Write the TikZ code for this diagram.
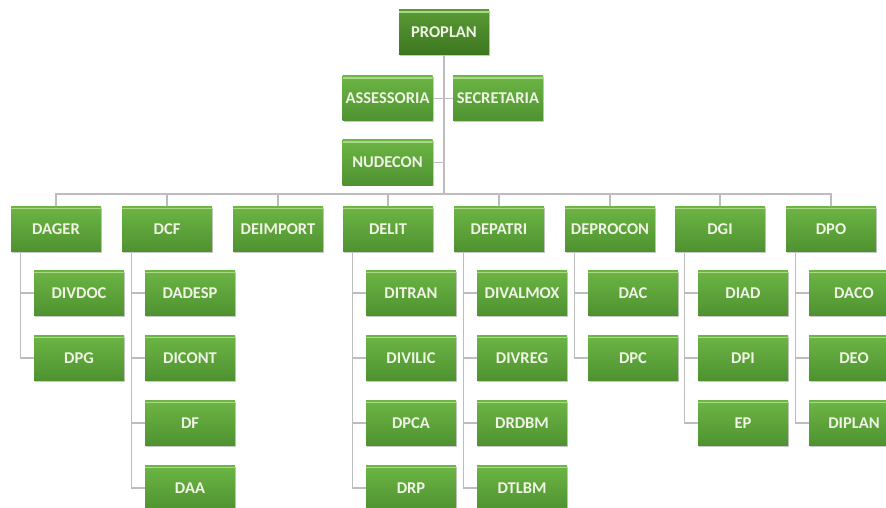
\documentclass[tikz,border=0pt]{standalone}
\usepackage{fontspec}
\newfontfamily\boxfont{Carlito}
\usetikzlibrary{calc,shadows}
\definecolor{gtop}{HTML}{6DB545}
\definecolor{gbot}{HTML}{4E9230}
\definecolor{dtop}{HTML}{5A9A35}
\definecolor{dbot}{HTML}{3C7620}
\definecolor{hl}{HTML}{A8DA86}
\definecolor{txt}{HTML}{EEF3E4}
\definecolor{conn}{HTML}{BDBDBD}
\tikzset{
  box/.style={rectangle, minimum width=90pt, minimum height=45pt, inner sep=0pt,
    top color=gtop, bottom color=gbot, text=txt,
    font=\boxfont\bfseries\fontsize{16.5}{17}\selectfont,
    drop shadow={shadow xshift=1.2pt, shadow yshift=-1.2pt, opacity=0.35, fill=black!60},
    path picture={\draw[hl, line width=1.6pt]
      ([yshift=-2pt]path picture bounding box.north west) --
      ([yshift=-2pt]path picture bounding box.north east);}},
  topbox/.style={box, top color=dtop, bottom color=dbot},
  link/.style={draw=conn, line width=1.1pt}
}
\begin{document}
\begin{tikzpicture}[x=1pt,y=-1pt]
\fill[white] (0,0) rectangle (886,508);
\clip (0,0) rectangle (886,508);
\useasboundingbox (0,0) rectangle (886,508);

\coordinate (bus) at (444,194);

\node[topbox] (PROPLAN) at (444,32.5) {PROPLAN};
\node[box] (ASSESSORIA) at (387.5,98.5) {ASSESSORIA};
\node[box] (SECRETARIA) at (498,98.5) {SECRETARIA};
\node[box] (NUDECON) at (387.5,162.5) {NUDECON};

\foreach \n/\x in {DAGER/56,DCF/167,DEIMPORT/278,DELIT/388,DEPATRI/499,DEPROCON/610,DGI/720,DPO/831}{
  \node[box] (\n) at (\x,229) {\n};
}

\foreach \p/\c/\r in {DAGER/DIVDOC/0,DAGER/DPG/1,
  DCF/DADESP/0,DCF/DICONT/1,DCF/DF/2,DCF/DAA/3,
  DELIT/DITRAN/0,DELIT/DIVILIC/1,DELIT/DPCA/2,DELIT/DRP/3,
  DEPATRI/DIVALMOX/0,DEPATRI/DIVREG/1,DEPATRI/DRDBM/2,DEPATRI/DTLBM/3,
  DEPROCON/DAC/0,DEPROCON/DPC/1,
  DGI/DIAD/0,DGI/DPI/1,DGI/EP/2,
  DPO/DACO/0,DPO/DEO/1,DPO/DIPLAN/2}{
  \node[box] (\c) at ($(\p.center)+(23,{64+65*\r})$) {\c};
  \draw[link] ([xshift=10pt]\p.south west) |- (\c.west);
}

\draw[link] (PROPLAN.south) -- (PROPLAN.south |- bus);
\draw[link] (ASSESSORIA.east) -- (SECRETARIA.west);
\draw[link] (NUDECON.east) -- (NUDECON.east -| PROPLAN.south);
\foreach \n in {DAGER,DCF,DEIMPORT,DELIT,DEPATRI,DEPROCON,DGI,DPO}{
  \draw[link] (\n.north) |- (bus);
}
\end{tikzpicture}
\end{document}
